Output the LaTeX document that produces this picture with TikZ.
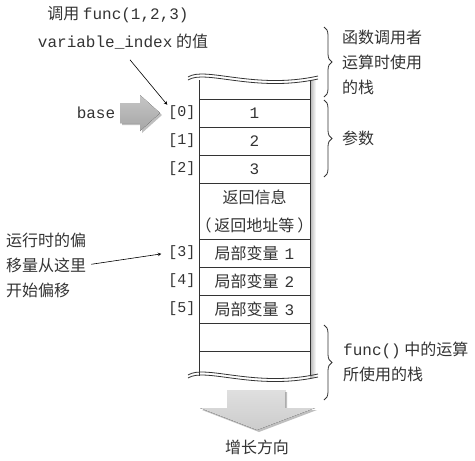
\documentclass[tikz,border=0pt]{standalone}
\usepackage{fontspec}
\setmainfont{Noto Sans CJK SC}
\setmonofont{Liberation Mono}
\usetikzlibrary{decorations.pathreplacing,shadows,calc}
\definecolor{ink}{HTML}{333333}

\tikzset{
  cell/.style={draw=ink, line width=1pt, minimum width=111pt, minimum height=28pt,
    inner sep=0pt, align=center, text=ink, font=\fontsize{16}{28}\selectfont},
  idx/.style={text=ink, inner sep=1pt, font=\ttfamily\fontsize{15}{18}\selectfont},
  note/.style={text=ink, inner sep=0pt, align=left, font=\fontsize{16}{25}\selectfont},
  pointer/.style={-stealth, line width=0.6pt},
  curly/.style={decorate, decoration={brace, amplitude=8pt}, draw=ink, line width=0.8pt},
  bigarrow/.style={draw=none, drop shadow={shadow xshift=2pt, shadow yshift=-2pt, opacity=0.5}},
  wave/.pic={
    \draw[ink, line width=0.8pt] (188,77) .. controls (205,66) and (255,90) .. (318,76);
    \draw[ink, line width=0.8pt] (188,80) .. controls (205,69) and (255,93) .. (318,79);
  },
}

\begin{document}
\begin{tikzpicture}[x=1pt, y=-1pt]
  \useasboundingbox (0,0) rectangle (475,461);

  % the stack
  \fill[left color=gray!60, right color=white] (310,80) rectangle (316,377);
  \draw[ink, line width=1pt] (199,80) -- (199,376) (310,80) -- (310,376);
  \pic at (0,0) {wave};
  \pic at (0,298) {wave};

  \node[cell] (p1) at (254.5,113) {\texttt{1}};
  \node[cell] (p2) at (254.5,141) {\texttt{2}};
  \node[cell] (p3) at (254.5,169) {\texttt{3}};
  \node[cell, minimum height=56pt] (ret) at (254.5,211)
    {返回信息\\\makebox[0pt]{（\hspace{3pt}返回地址等\hspace{3pt}）}};
  \node[cell] (v1) at (254.5,253) {局部变量\hspace{6pt}\texttt{1}};
  \node[cell] (v2) at (254.5,281) {局部变量\hspace{6pt}\texttt{2}};
  \node[cell] (v3) at (254.5,309) {局部变量\hspace{6pt}\texttt{3}};
  \node[cell] (e1) at (254.5,337) {};

  % indices
  \node[idx] (i0) at (182,113) {[0]};
  \node[idx] (i1) at (182,141) {[1]};
  \node[idx] (i2) at (182,169) {[2]};
  \node[idx] (i3) at (182,253) {[3]};
  \node[idx] (i4) at (182,281) {[4]};
  \node[idx] (i5) at (182,309) {[5]};

  % base
  \node[idx, font=\ttfamily\fontsize{16}{18}\selectfont] (base) at (96,113) {base};
  \fill[bigarrow, top color=gray!45, bottom color=gray!70]
    (120,103) -- (140,103) -- (140,95) -- (160,113) -- (140,131) -- (140,123) -- (120,123) -- cycle;

  % labels on the left
  \node[note] (call) at (118,15) {调用 \texttt{func(1,2,3)}};
  \node[note] (var) at (123,42) {\texttt{variable\_index} 的值};
  \coordinate (varfoot) at ($(var.south)+(7,10)$);
  \draw[pointer] (varfoot) -- (i0.north west);

  \node[note, anchor=west] (offs) at (6,265) {运行时的偏\\移量从这里\\开始偏移};
  \draw[pointer, shorten <=5pt, shorten >=6pt] (offs.east) -- (i3.west);

  % braces
  \draw[curly] (324,27) -- (324,97);
  \node[note, anchor=west] (caller) at (342,62) {函数调用者\\运算时使用\\的栈};
  \draw[curly] (324,100) -- (324,177);
  \node[note, anchor=west] (args) at (342,138) {参数};
  \draw[curly] (324,325) -- (324,400);
  \node[note, anchor=west] (local) at (343,362) {\texttt{func()} 中的运算\\所使用的栈};

  % growth
  \fill[bigarrow, top color=gray!25, bottom color=gray!40]
    (227,390) -- (285,390) -- (285,408) -- (315,408) -- (257,430) -- (200,408) -- (227,408) -- cycle;
  \node[note] (grow) at (257,447) {增长方向};
\end{tikzpicture}
\end{document}
